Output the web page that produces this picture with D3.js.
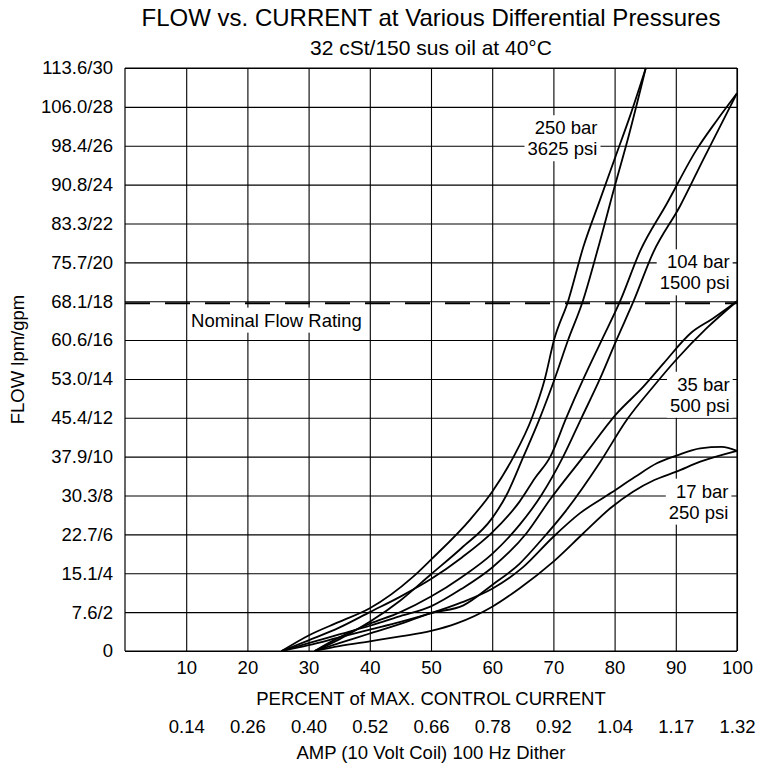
<!DOCTYPE html>
<html><head><meta charset="utf-8">
<script src="https://cdn.jsdelivr.net/npm/d3@7"></script>
<style>
body{margin:0;background:#fff}
svg{display:block}
text{font-family:"Liberation Sans",Arial,Helvetica,sans-serif;fill:#000}
</style>
</head><body>
<svg id="chart" width="757" height="763"></svg>
<script>
// ---------------- DATA ----------------
const titleText = "FLOW vs. CURRENT at Various Differential Pressures";
const subtitleText = "32 cSt/150 sus oil at 40\u00B0C";
const xTitle = "PERCENT of MAX. CONTROL CURRENT";
const xTitle2 = "AMP (10 Volt Coil) 100 Hz Dither";
const yTitle = "FLOW lpm/gpm";

const percentTicks = [10,20,30,40,50,60,70,80,90,100];
const ampLabels = ["0.14","0.26","0.40","0.52","0.66","0.78","0.92","1.04","1.17","1.32"];
const flowTicks = [0,2,4,6,8,10,12,14,16,18,20,22,24,26,28,30];
const flowLabels = ["0","7.6/2","15.1/4","22.7/6","30.3/8","37.9/10","45.4/12","53.0/14","60.6/16","68.1/18","75.7/20","83.3/22","90.8/24","98.4/26","106.0/28","113.6/30"];
const nominalFlow = 18;
const nominalLabel = "Nominal Flow Rating";

// [percent of max current, flow gpm]
const bar250Down = [[25.6,0],[30,0.8],[35,1.5],[40,2.2],[47,3.8],[50,4.7],[56.5,6.8],[60,8.2],[63.5,10.0],[66.5,12.0],[68.6,14.0],[70.1,16.0],[72.4,18.0],[74.9,20.8],[77.6,23.2],[80.1,25.4],[82.6,27.6],[85.1,30]];
const bar250Up   = [[31,0],[35,0.6],[40,1.5],[45,2.6],[50,3.95],[55,5.3],[59.9,6.8],[62.3,8.0],[65.1,10.0],[67.8,12.0],[70.2,14.0],[72.4,16.0],[74.8,18.0],[77.1,20.5],[80.1,24.0],[82.3,26.5],[85.1,30]];
const bar104Down = [[25.6,0],[30,0.55],[35,1.2],[40,2.0],[45,2.8],[50,3.7],[55,4.8],[60,6.1],[64.5,7.7],[67,8.9],[69.5,10.0],[72.1,12.0],[74.9,14.0],[77.9,16.0],[80.9,18.0],[84.2,20.6],[88.5,23.0],[93.4,25.8],[96.7,27.3],[100,28.7]];
const bar104Up   = [[31,0],[35,0.7],[40,1.4],[45,2.0],[50,2.8],[55,3.8],[60,5.0],[64.5,6.5],[68,8.0],[71.6,10.0],[74.6,12.0],[77.6,14.0],[80.3,16.0],[83.1,18.0],[86.3,20.5],[90.7,22.9],[94.5,25.3],[100,28.7]];
const bar35Down  = [[25.6,0],[30,0.4],[35,0.85],[40,1.3],[45,1.8],[50,2.3],[55,3.2],[60,4.3],[65.6,6.06],[69.4,7.77],[74.9,10.0],[80.3,12.2],[84.7,13.6],[88,14.8],[92.6,16.4],[96,17.1],[100,18]];
const bar35Up    = [[31,0],[35,0.4],[40,0.9],[45,1.4],[50,1.95],[55.3,2.35],[60,3.4],[64.5,4.5],[68,5.7],[72,7.2],[77.6,9.7],[82,11.9],[86.3,13.6],[90.1,15.0],[95,16.6],[100,18]];
const bar17Down  = [[25.6,0],[30,0.3],[35,0.7],[40,1.1],[45,1.5],[50,1.95],[55,2.5],[60,3.2],[65,4.3],[70,5.88],[74.3,7.08],[79.5,8.15],[83.3,8.95],[86.9,9.66],[90.1,10.05],[94,10.43],[97.5,10.5],[100,10.3]];
const bar17Up    = [[31,0],[35,0.25],[40,0.5],[45,0.75],[50,1.03],[54.2,1.42],[60,2.28],[64.5,3.23],[70,4.6],[74.9,6.06],[79.5,7.4],[83,8.2],[86.5,8.8],[90.1,9.23],[94,9.74],[100,10.3]];
const seriesList = [bar250Down,bar250Up,bar104Down,bar104Up,bar35Down,bar35Up,bar17Down,bar17Up];

const pressureLabels = [["250 bar","3625 psi"],["104 bar","1500 psi"],["35 bar","500 psi"],["17 bar","250 psi"]];

// ---------------- DRAW ----------------
const svg = d3.select("#chart");
const L = 125, R = 737, T = 68, B = 651;
const x = d3.scaleLinear().domain([0,100]).range([L,R]);
const y = d3.scaleLinear().domain([0,30]).range([B,T]);
const W = R - L, H = B - T;
const FS = "18.5px";

// titles
svg.append("text").attr("x", (L+R)/2).attr("y", 26).attr("text-anchor","middle")
  .style("font-size","24px").text(titleText);
svg.append("text").attr("x", (L+R)/2).attr("y", 55).attr("text-anchor","middle")
  .style("font-size","21px").text(subtitleText);

// y axis + horizontal grid
const yAxis = svg.append("g").attr("transform",`translate(${L},0)`)
  .call(d3.axisLeft(y).tickValues(flowTicks).tickSize(-W).tickPadding(12)
    .tickFormat((d,i)=>flowLabels[i]));
yAxis.select(".domain").remove();
yAxis.selectAll(".tick line").attr("stroke","#000").attr("stroke-width",1.1);
yAxis.selectAll(".tick text").style("font-size",FS).style("font-family",'"Liberation Sans",Arial,sans-serif');

// x axis + vertical grid
const xAxis = svg.append("g").attr("transform",`translate(0,${B})`)
  .call(d3.axisBottom(x).tickValues(percentTicks).tickSize(-H).tickPadding(10)
    .tickFormat(d=>d));
xAxis.select(".domain").remove();
xAxis.selectAll(".tick line").attr("stroke","#000").attr("stroke-width",1.1);
xAxis.selectAll(".tick text").style("font-size",FS).style("font-family",'"Liberation Sans",Arial,sans-serif');

// amp labels
const ampAxis = svg.append("g").attr("transform",`translate(0,${B+69})`)
  .call(d3.axisBottom(x).tickValues(percentTicks).tickSize(0).tickPadding(0)
    .tickFormat((d,i)=>ampLabels[i]));
ampAxis.select(".domain").remove();
ampAxis.selectAll(".tick text").style("font-size",FS).style("font-family",'"Liberation Sans",Arial,sans-serif');

// frame left & bottom
svg.append("line").attr("x1",L).attr("x2",L).attr("y1",T).attr("y2",B).attr("stroke","#000").attr("stroke-width",1.2);
svg.append("line").attr("x1",L).attr("x2",R).attr("y1",B).attr("y2",B).attr("stroke","#000").attr("stroke-width",1.2);

// axis titles
svg.append("text").attr("x",(L+R)/2).attr("y",B+54).attr("text-anchor","middle").style("font-size",FS).text(xTitle);
svg.append("text").attr("x",(L+R)/2).attr("y",B+108).attr("text-anchor","middle").style("font-size",FS).text(xTitle2);
svg.append("text").attr("transform",`translate(24,${(T+B)/2}) rotate(-90)`).attr("text-anchor","middle")
  .style("font-size",FS).text(yTitle);

// nominal dashed line
svg.append("line").attr("x1",L).attr("x2",R).attr("y1",y(nominalFlow)+2).attr("y2",y(nominalFlow)+2)
  .attr("stroke","#000").attr("stroke-width",2).attr("stroke-dasharray","25,15");

// labels with white boxes
function boxedLabel(lines, ax, ay, anchor){
  const g = svg.append("g");
  const t = g.append("text").attr("text-anchor",anchor).style("font-size",FS);
  lines.forEach((s,i)=>{
    t.append("tspan").attr("x",ax).attr("y",ay + i*21).text(s);
  });
  const bb = t.node().getBBox();
  g.insert("rect","text").attr("x",bb.x-3).attr("y",bb.y-2).attr("width",bb.width+6).attr("height",bb.height+4).attr("fill","#fff");
}
boxedLabel([nominalLabel], x(10.8), y(17)+6, "start");
boxedLabel(pressureLabels[0], x(77.2), y(26.9)+6, "end");
boxedLabel(pressureLabels[1], x(98.8), y(20)+6, "end");
boxedLabel(pressureLabels[2], x(98.8), y(13.7)+6, "end");
boxedLabel(pressureLabels[3], x(98.6), y(8.2)+6, "end");

// curves
const line = d3.line().x(d=>x(d[0])).y(d=>y(d[1])).curve(d3.curveMonotoneX);
svg.append("g").selectAll("path").data(seriesList).join("path")
  .attr("d", line).attr("fill","none").attr("stroke","#000").attr("stroke-width",1.8)
  .attr("stroke-linejoin","round");

// right & top frame
svg.append("line").attr("x1",R).attr("x2",R).attr("y1",T).attr("y2",B).attr("stroke","#000").attr("stroke-width",1.2);
svg.append("line").attr("x1",L).attr("x2",R).attr("y1",T).attr("y2",T).attr("stroke","#000").attr("stroke-width",1.2);
</script>
</body></html>
